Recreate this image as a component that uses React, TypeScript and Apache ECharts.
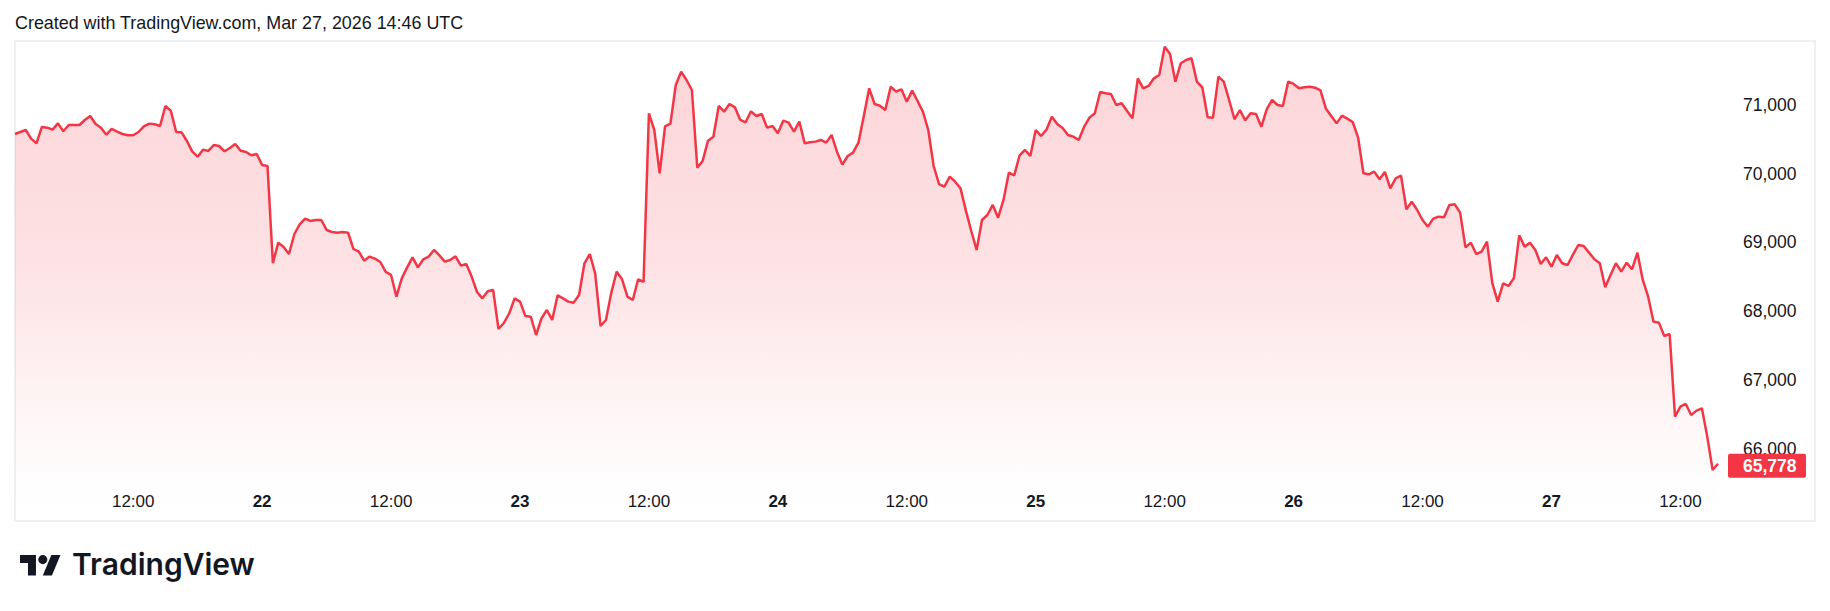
import React, { useEffect, useRef } from "react";
import * as echarts from "echarts";

// ---- data ----
const START_UTC = Date.UTC(2026, 2, 21, 1, 0); // first sample
const STEP_MINUTES = 30;

const prices: number[] = [
  70578, 70607, 70636, 70510, 70442, 70680, 70670, 70641, 70733, 70617,
  70709, 70709, 70709, 70782, 70840, 70724, 70670, 70568, 70651, 70612,
  70578, 70559, 70559, 70607, 70690, 70729, 70719, 70695, 70986, 70918,
  70607, 70602, 70476, 70321, 70248, 70350, 70331, 70418, 70403, 70326,
  70374, 70433, 70335, 70316, 70268, 70287, 70127, 70112, 68696, 68996,
  68933, 68831, 69122, 69263, 69346, 69312, 69326, 69326, 69181, 69152,
  69142, 69152, 69142, 68904, 68865, 68734, 68793, 68763, 68715, 68570,
  68526, 68210, 68477, 68637, 68783, 68637, 68754, 68793, 68890, 68812,
  68720, 68744, 68797, 68662, 68686, 68502, 68278, 68186, 68288, 68308,
  67740, 67827, 67968, 68186, 68138, 67930, 67919, 67652, 67895, 68016,
  67871, 68230, 68186, 68138, 68123, 68235, 68696, 68831, 68545, 67783,
  67871, 68269, 68574, 68463, 68210, 68162, 68463, 68424, 70879, 70636,
  70006, 70690, 70729, 71291, 71485, 71364, 71218, 70088, 70185, 70481,
  70539, 70986, 70903, 71015, 70966, 70782, 70748, 70908, 70840, 70869,
  70670, 70695, 70588, 70772, 70743, 70612, 70758, 70442, 70457, 70467,
  70491, 70452, 70564, 70321, 70132, 70258, 70306, 70452, 70840, 71243,
  71015, 70990, 70927, 71267, 71194, 71228, 71049, 71209, 71058, 70903,
  70636, 70112, 69850, 69812, 69957, 69884, 69787, 69462, 69166, 68890,
  69326, 69399, 69545, 69360, 69618, 70015, 69976, 70268, 70345, 70258,
  70636, 70549, 70641, 70830, 70724, 70665, 70564, 70539, 70491, 70680,
  70816, 70879, 71189, 71170, 71160, 71000, 71025, 70913, 70806, 71388,
  71243, 71277, 71388, 71437, 71849, 71743, 71340, 71607, 71655, 71680,
  71340, 71257, 70821, 70816, 71413, 71340, 71073, 70792, 70927, 70777,
  70879, 70869, 70685, 70937, 71073, 71000, 70986, 71340, 71306, 71243,
  71257, 71267, 71252, 71214, 70950, 70840, 70733, 70845, 70801, 70753,
  70530, 70006, 69991, 70030, 69918, 70025, 69787, 69933, 69971, 69482,
  69593, 69472, 69326, 69229, 69346, 69375, 69365, 69545, 69554, 69433,
  68928, 68996, 68831, 68865, 69011, 68404, 68138, 68404, 68366, 68477,
  69103, 68938, 68996, 68890, 68686, 68783, 68647, 68817, 68696, 68671,
  68821, 68962, 68948, 68851, 68754, 68696, 68346, 68526, 68696, 68574,
  68705, 68609, 68851, 68453, 68210, 67846, 67832, 67638, 67667, 66464,
  66609, 66648, 66488, 66551, 66585, 66173, 65687, 65778,
];

const lastPrice = 65778;
const yMin = 65000;
const yMax = 72000;
const yStep = 1000;
const headerText = "Created with TradingView.com, Mar 27, 2026 14:46 UTC";
const brandText = "TradingView";

// ---- styling ----
const RED = "#F23645";
const TEXT = "#131722";
const FONT = "'Liberation Sans', Arial, sans-serif";

const pad2 = (n: number) => String(n).padStart(2, "0");
const categories = prices.map((_, i) => {
  const d = new Date(START_UTC + i * STEP_MINUTES * 60000);
  return `${d.getUTCDate()}|${pad2(d.getUTCHours())}:${pad2(d.getUTCMinutes())}`;
});
const isMarked = (c: string) => c.endsWith("|00:00") || c.endsWith("|12:00");
const fmtTime = (c: string) => {
  const [day, hm] = c.split("|");
  return hm === "00:00" ? `{d|${day}}` : `{t|${hm}}`;
};

echarts.graphic.registerShape(
  "tvlogo",
  echarts.graphic.extendPath(
    "M14 22H7V11H0V4h14v18zM28 22h-8l7.5-18h8L28 22zM24 8A4 4 0 1 1 16 8A4 4 0 1 1 24 8Z",
    {}
  )
);

const staticGraphics = [
  {
    type: "text",
    x: 15,
    y: 23,
    style: {
      text: headerText,
      fill: TEXT,
      fontSize: 17.9,
      fontFamily: FONT,
      verticalAlign: "middle",
    },
  },
  {
    type: "rect",
    shape: { x: 15, y: 41, width: 1800, height: 480 },
    style: { fill: "none", stroke: "#EEF0F4", lineWidth: 2 },
    silent: true,
  },
  {
    type: "tvlogo",
    x: 20,
    y: 550.5,
    scaleX: 1.14,
    scaleY: 1.14,
    style: { fill: TEXT },
  },
  {
    type: "text",
    x: 72,
    y: 564,
    style: {
      text: brandText,
      fill: TEXT,
      fontSize: 30,
      fontWeight: 600,
      fontFamily: "Inter, 'Noto Sans', sans-serif",
      verticalAlign: "middle",
    },
  },
];

export default function App() {
  const ref = useRef<HTMLDivElement>(null);
  useEffect(() => {
    if (!ref.current) return;
    const chart = echarts.init(ref.current, undefined, { renderer: "svg" });
    chart.setOption({
      animation: false,
      backgroundColor: "#ffffff",
      textStyle: { fontFamily: FONT },
      grid: { left: 15, right: 112, top: 36.3, bottom: 93.8, containLabel: false },
      xAxis: {
        type: "category",
        data: categories,
        boundaryGap: false,
        offset: -33,
        axisLine: { show: false },
        axisTick: { show: false },
        splitLine: { show: false },
        axisLabel: {
          interval: (_idx: number, val: string) => isMarked(val),
          formatter: fmtTime,
          margin: 9,
          rich: {
            t: { fontSize: 17, fontFamily: FONT, color: TEXT },
            d: { fontSize: 17, fontFamily: FONT, color: TEXT, fontWeight: "bold" },
          },
        },
      },
      yAxis: {
        type: "value",
        position: "right",
        min: yMin,
        max: yMax,
        interval: yStep,
        axisLine: { show: false },
        axisTick: { show: false },
        splitLine: { show: false },
        axisLabel: {
          margin: 25,
          color: TEXT,
          fontSize: 17.5,
          fontFamily: FONT,
          showMinLabel: false,
          showMaxLabel: false,
          formatter: (v: number) => v.toLocaleString("en-US"),
        },
      },
      series: [
        {
          type: "line",
          data: prices,
          showSymbol: false,
          symbol: "none",
          lineStyle: { color: RED, width: 2.5 },
          areaStyle: {
            color: new echarts.graphic.LinearGradient(0, 0, 0, 1, [
              { offset: 0, color: "rgba(242,54,69,0.30)" },
              { offset: 0.45, color: "rgba(242,54,69,0.21)" },
              { offset: 0.75, color: "rgba(242,54,69,0.08)" },
              { offset: 0.93, color: "rgba(242,54,69,0.01)" },
              { offset: 1, color: "rgba(242,54,69,0)" },
            ]),
          },
        },
      ],
      graphic: staticGraphics,
    });

    // last-price badge placed through the value axis scale
    const py = chart.convertToPixel({ yAxisIndex: 0 }, lastPrice) as number;
    const cy = py + 2;
    chart.setOption({
      graphic: [
        ...staticGraphics,
        {
          type: "rect",
          z: 100,
          shape: { x: 1728, y: cy - 12, width: 78, height: 24, r: 2 },
          style: { fill: RED },
        },
        {
          type: "text",
          z: 101,
          x: 1743,
          y: cy,
          style: {
            text: lastPrice.toLocaleString("en-US"),
            fill: "#ffffff",
            fontSize: 17.5,
            fontWeight: "bold",
            fontFamily: FONT,
            verticalAlign: "middle",
          },
        },
      ],
    });
    return () => chart.dispose();
  }, []);
  return (
    <div
      ref={ref}
      style={{ position: "fixed", left: 0, top: 0, width: 1830, height: 611 }}
    />
  );
}
